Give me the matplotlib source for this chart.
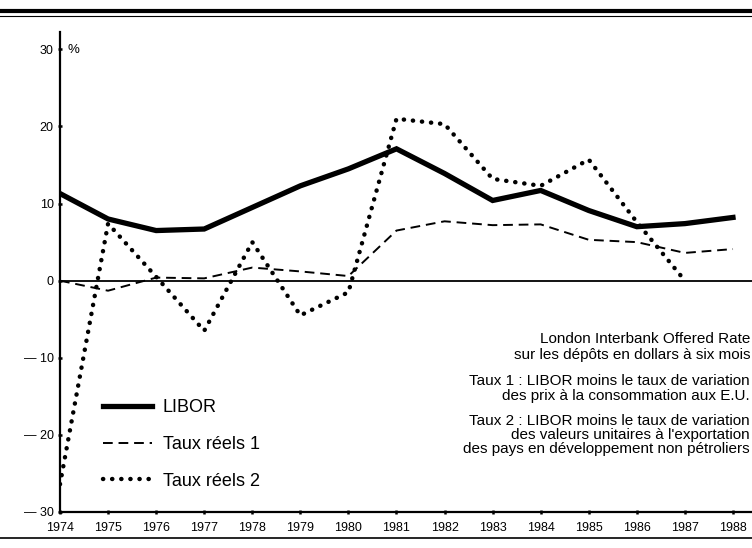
import matplotlib
matplotlib.use("Agg")
import matplotlib.pyplot as plt
from matplotlib.lines import Line2D

plt.rcParams['font.family'] = ['Liberation Sans', 'DejaVu Sans']

annees = list(range(1974, 1989))
libor = [11.3, 8.0, 6.5, 6.7, 9.5, 12.3, 14.5, 17.1, 13.9, 10.4, 11.7, 9.1, 7.0, 7.4, 8.2]
taux1 = [0.0, -1.3, 0.4, 0.3, 1.7, 1.2, 0.6, 6.5, 7.7, 7.2, 7.3, 5.3, 5.0, 3.6, 4.1]
annees2 = list(range(1974, 1988))
taux2 = [-26.4, 7.4, 0.5, -6.5, 5.0, -4.5, -1.5, 21.0, 20.3, 13.2, 12.3, 15.7, 7.6, 0.0]

yticks = [30, 20, 10, 0, -10, -20, -30]
ylabels = ['30', '20', '10', '0', '— 10', '— 20', '— 30']

notes = ["London Interbank Offered Rate",
         "sur les dépôts en dollars à six mois",
         "Taux 1 : LIBOR moins le taux de variation",
         "des prix à la consommation aux E.U.",
         "Taux 2 : LIBOR moins le taux de variation",
         "des valeurs unitaires à l'exportation",
         "des pays en développement non pétroliers"]
notes_y = [339, 355, 381, 396, 421, 435, 449]

W, H = 752, 548
fig = plt.figure(figsize=(W / 100, H / 100), dpi=100)
ax = fig.add_axes([60 / W, (H - 512) / H, (W - 60) / W, 480 / H])

ax.plot(annees, libor, color='black', lw=3.8, solid_joinstyle='miter', label='LIBOR')
ax.plot(annees, taux1, color='black', lw=1.4, linestyle=(0, (5, 3)), label='Taux réels 1')
ax.plot(annees2, taux2, color='black', lw=3.2, linestyle=(0, (0.05, 2.0)),
        dash_capstyle='round', label='Taux réels 2')
ax.axhline(0, color='black', lw=1.3)

ax.set_xlim(1974, 1974 + (W - 60) / 48.07)
ax.set_ylim(-30, 32.25)
ax.set_xticks(annees)
ax.set_yticks(yticks)
ax.set_yticklabels(ylabels)
ax.tick_params(direction='inout', length=3, width=1.8, labelsize=9, pad=3)
ax.tick_params(axis='x', pad=6)
for s in ['top', 'right']:
    ax.spines[s].set_visible(False)
for s in ['left', 'bottom']:
    ax.spines[s].set_linewidth(1.6)

ax.text(68 / W, (H - 50) / H, '%', transform=fig.transFigure, fontsize=9.5, va='center')

leg = ax.legend(loc='upper left', bbox_to_anchor=(103 / W, (H - 399) / H),
                bbox_transform=fig.transFigure, frameon=False, fontsize=13,
                handlelength=2.7, handletextpad=0.6, labelspacing=1.1,
                borderpad=0, borderaxespad=0)

for t, y in zip(notes, notes_y):
    fig.text(750 / W, (H - y) / H, t, ha='right', va='center', fontsize=11)

fig.add_artist(Line2D([0, 1], [(H - 11) / H] * 2, color='black', lw=3.0))
fig.add_artist(Line2D([0, 1], [(H - 15.5) / H] * 2, color='black', lw=0.8))
fig.add_artist(Line2D([0, 1], [(H - 538) / H] * 2, color='black', lw=1.2))

fig.savefig('out.png', dpi=100)
